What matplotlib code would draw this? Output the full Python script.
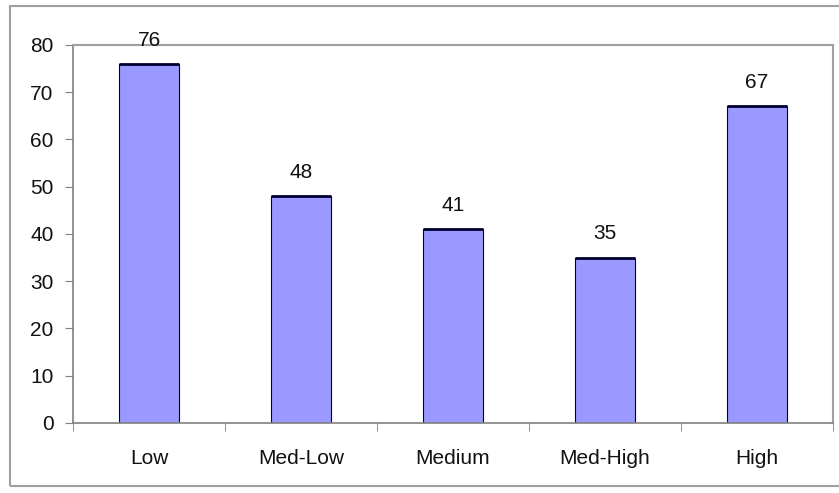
import matplotlib.pyplot as plt
import matplotlib.patches as patches
import numpy as np

plt.rcParams['font.family'] = ['Liberation Sans', 'DejaVu Sans']

categories = ['Low', 'Med-Low', 'Medium', 'Med-High', 'High']
values = [76, 48, 41, 35, 67]

fig = plt.figure(figsize=(8.39, 4.93), dpi=100)
fig.patch.set_facecolor('white')

# outer chart frame
frame = patches.Rectangle((0.012, 0.014), 1.0, 0.974, transform=fig.transFigure,
                          fill=False, edgecolor='#a0a0a0', linewidth=1.5)
fig.patches.append(frame)

ax = fig.add_axes([0.087, 0.142, 0.906, 0.767])
x = np.arange(len(categories))
bars = ax.bar(x, values, width=0.39, color='#9999ff', edgecolor='#000040', linewidth=0.8)
# darker top edge on each bar
ax.hlines(values, x - 0.195, x + 0.195, color='#000030', linewidth=2)

for xi, v in zip(x, values):
    ax.text(xi, v + 3.0, str(v), ha='center', va='bottom', fontsize=15, color='#111111')

ax.set_xlim(-0.5, len(categories) - 0.5)
ax.set_ylim(0, 80)
ax.set_yticks(np.arange(0, 81, 10))
ax.set_xticks(x)
ax.set_xticklabels(categories, fontsize=15, color='#111111')
ax.set_xticks(np.arange(-0.5, len(categories)), minor=True)
ax.tick_params(axis='x', which='major', length=0, pad=19)
ax.tick_params(axis='x', which='minor', length=6, direction='out', color='#808080')
ax.tick_params(axis='y', length=6, direction='out', color='#808080', labelsize=15,
               labelcolor='#111111', pad=8)

for side in ['top', 'right']:
    ax.spines[side].set_color('#a0a0a0')
    ax.spines[side].set_linewidth(1.5)
for side in ['left', 'bottom']:
    ax.spines[side].set_color('#808080')
    ax.spines[side].set_linewidth(1.2)

fig.savefig('out.png', dpi=100)
